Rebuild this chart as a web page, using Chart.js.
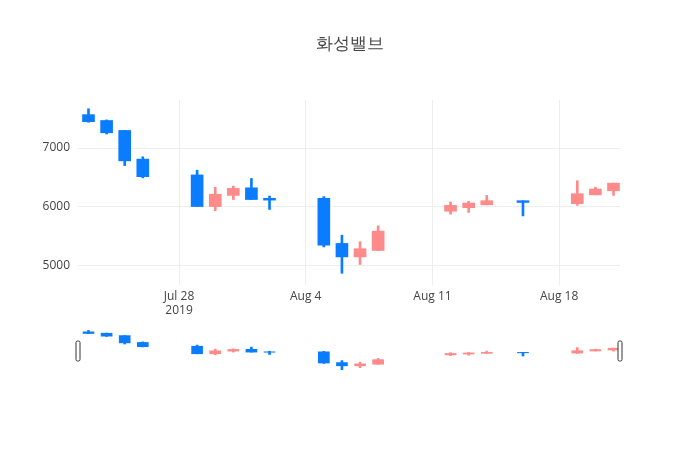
<!DOCTYPE html>
<html>
<head>
<meta charset="utf-8">
<script src="https://cdn.jsdelivr.net/npm/chart.js@4/dist/chart.umd.min.js"></script>
<style>
  body { margin: 0; background: #fff; }
  #wrap { position: relative; width: 700px; height: 450px; }
  #main { position: absolute; left: 0; top: 0; }
  #slider { position: absolute; left: 0; top: 325px; }
</style>
</head>
<body>
<div id="wrap">
  <canvas id="main" width="700" height="450"></canvas>
  <canvas id="slider" width="700" height="50"></canvas>
</div>
<script>
const title = '화성밸브';
const dates = ['2019-07-23', '2019-07-24', '2019-07-25', '2019-07-26', '2019-07-29', '2019-07-30', '2019-07-31',
    '2019-08-01', '2019-08-02', '2019-08-05', '2019-08-06', '2019-08-07', '2019-08-08', '2019-08-12',
    '2019-08-13', '2019-08-14', '2019-08-16', '2019-08-19', '2019-08-20', '2019-08-21'];
const open  = [7570, 7470, 7300, 6810, 6540, 6000, 6190, 6320, 6140, 6140, 5370, 5140, 5250, 5920, 5980, 6030, 6100, 6050, 6200, 6270];
const high  = [7670, 7480, 7300, 6850, 6620, 6330, 6350, 6480, 6180, 6170, 5510, 5400, 5670, 6080, 6090, 6190, 6100, 6440, 6330, 6400];
const low   = [7440, 7240, 6700, 6490, 6000, 5930, 6120, 6120, 5950, 5310, 4860, 5010, 5250, 5870, 5900, 6030, 5840, 6020, 6200, 6190];
const close = [7450, 7260, 6780, 6510, 6000, 6210, 6310, 6120, 6110, 5340, 5140, 5280, 5580, 6020, 6060, 6100, 6070, 6220, 6300, 6400];
const tickDays = ['2019-07-28', '2019-08-04', '2019-08-11', '2019-08-18'];
const tickLabels = [['Jul 28', '2019'], 'Aug 4', 'Aug 11', 'Aug 18'];
const yTicks = [5000, 6000, 7000];

const UP = '#ff8a8a', DOWN = '#0a7cff';
const FONT = '"Open Sans", "Noto Sans", sans-serif';
const dayNum = s => (Date.parse(s) - Date.parse('2019-07-01')) / 864e5 + 1;
const xs = dates.map(dayNum);
const colors = open.map((o, i) => close[i] >= o ? UP : DOWN);
const tickX = tickDays.map(dayNum);

function candleSets(bodyW, wickW) {
    return [
        { data: xs.map((x, i) => ({ x, y: [low[i], high[i]] })), backgroundColor: colors, barThickness: wickW, grouped: false },
        { data: xs.map((x, i) => ({ x, y: [Math.min(open[i], close[i]), Math.max(open[i], close[i]) + (open[i] === close[i] ? 10 : 0)] })),
          backgroundColor: colors, barThickness: bodyW, grouped: false }
    ];
}

const titlePlugin = {
    id: 'ttl',
    afterDraw(chart) {
        const ctx = chart.ctx;
        ctx.save();
        ctx.font = '17px ' + FONT;
        ctx.fillStyle = '#444';
        ctx.textAlign = 'center';
        ctx.textBaseline = 'middle';
        ctx.fillText(title, 350, 44);
        ctx.restore();
    }
};

new Chart(document.getElementById('main'), {
    type: 'bar',
    data: { datasets: candleSets(12, 2) },
    plugins: [titlePlugin],
    options: {
        responsive: false, animation: false,
        layout: { padding: { top: 100, right: 80, bottom: 125, left: 0 } },
        plugins: { legend: { display: false }, tooltip: { enabled: false } },
        scales: {
            x: {
                type: 'linear', min: 22.42, max: 52.36, offset: false,
                afterFit: s => { s.height = 40; },
                afterBuildTicks: s => { s.ticks = tickX.map(v => ({ value: v })); },
                ticks: { autoSkip: false, maxRotation: 0, color: '#444', font: { family: FONT, size: 12 }, padding: 4,
                         callback: (v) => tickLabels[tickX.indexOf(v)] },
                grid: { color: '#eeeeee', drawTicks: false, offset: false },
                border: { display: false }
            },
            y: {
                min: 4660, max: 7820,
                afterFit: s => { s.width = 78; },
                afterBuildTicks: s => { s.ticks = yTicks.map(v => ({ value: v })); },
                ticks: { color: '#444', font: { family: FONT, size: 12 }, padding: 8, callback: v => String(v) },
                grid: { color: '#eeeeee', drawTicks: false },
                border: { display: false }
            }
        }
    }
});

const handlePlugin = {
    id: 'handles',
    afterDraw(chart) {
        const { ctx, chartArea: a } = chart;
        ctx.save();
        ctx.strokeStyle = '#333';
        ctx.fillStyle = '#fff';
        ctx.lineWidth = 1;
        for (const x of [a.left, a.right]) {
            ctx.beginPath();
            ctx.roundRect(x - 2, a.top + 11, 4, 20, 1.5);
            ctx.fill();
            ctx.stroke();
        }
        ctx.restore();
    }
};

new Chart(document.getElementById('slider'), {
    type: 'bar',
    data: { datasets: candleSets(11, 2) },
    plugins: [handlePlugin],
    options: {
        responsive: false, animation: false,
        layout: { padding: { top: 5, right: 80, bottom: 5, left: 78 } },
        plugins: { legend: { display: false }, tooltip: { enabled: false } },
        scales: {
            x: { type: 'linear', min: 22.42, max: 52.36, offset: false, display: false },
            y: { min: 4840, max: 7700, display: false }
        }
    }
});
</script>
</body>
</html>
